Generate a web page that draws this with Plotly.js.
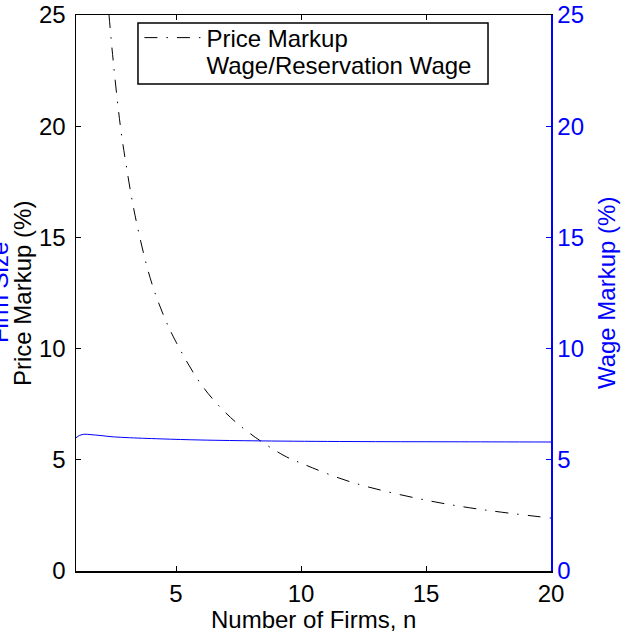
<!DOCTYPE html>
<html>
<head>
<meta charset="utf-8">
<script src="https://cdn.plot.ly/plotly-3.0.1.min.js"></script>
<style>html,body{margin:0;padding:0;background:#fff;}</style>
</head>
<body>
<div id="chart" style="width:630px;height:640px;"></div>
<script>
// Price markup (%) vs number of firms
var nPrice = [2.32, 2.5, 2.77, 3, 3.36, 3.96, 4.5, 5, 6, 7, 8, 9.32, 10, 12, 14.76, 17, 20];
var priceMarkup = [25, 22.8, 20.05, 18.3, 16.0, 13.2, 11.5, 10.3, 8.4, 7.1, 6.15, 5.19, 4.85, 4.0, 3.24, 2.8, 2.38];

// Wage / reservation wage markup (%) vs number of firms (right axis)
var nWage = [1, 1.15, 1.35, 1.6, 2, 2.4, 3, 4.4, 6, 8.4, 12, 16, 20];
var wageMarkup = [5.99, 6.1, 6.15, 6.13, 6.09, 6.04, 6.0, 5.94, 5.89, 5.85, 5.82, 5.81, 5.80];

var xTicks = [5, 10, 15, 20];
var yTicks = [0, 5, 10, 15, 20, 25];

var FONT = 'Liberation Sans, Arial, sans-serif';
var FS = 24;

var traces = [
  {
    x: nPrice, y: priceMarkup, type: 'scatter', mode: 'lines',
    name: 'Price Markup', legend: 'legend',
    line: {color: 'black', width: 1, dash: '13px,9px,1.5px,9px', shape: 'spline'},
    xaxis: 'x', yaxis: 'y'
  },
  {
    x: [null], y: [null], type: 'scatter', mode: 'lines',
    name: 'Wage/Reservation Wage', legend: 'legend2',
    line: {color: 'rgba(255,255,255,0)', width: 1},
    xaxis: 'x', yaxis: 'y'
  },
  {
    x: nWage, y: wageMarkup, type: 'scatter', mode: 'lines',
    name: 'Wage Markup', showlegend: false,
    line: {color: '#0000ff', width: 1, shape: 'spline'},
    xaxis: 'x', yaxis: 'y2'
  }
];

function legendAt(yc) {
  return {
    x: 0.1335, y: yc, xanchor: 'left', yanchor: 'middle',
    bgcolor: 'rgba(0,0,0,0)', borderwidth: 0,
    font: {family: FONT, size: FS, color: 'black'},
    itemwidth: 57
  };
}

var layout = {
  width: 630, height: 640,
  margin: {l: 76, r: 79, t: 15, b: 69, pad: 0},
  paper_bgcolor: 'white', plot_bgcolor: 'white',
  font: {family: FONT, size: FS, color: 'black'},
  showlegend: true,
  legend: legendAt(0.9586),
  legend2: legendAt(0.9101),
  shapes: [
    {type: 'rect', xref: 'paper', yref: 'paper', layer: 'below',
     x0: 0.1305, x1: 0.8674, y0: 0.8759, y1: 0.9856,
     fillcolor: 'white', line: {color: 'black', width: 1.5}}
  ],
  xaxis: {
    range: [1, 20], tickvals: xTicks, ticktext: xTicks.map(String),
    ticks: 'inside', ticklen: 5, tickwidth: 1, tickcolor: 'black',
    showline: true, linecolor: 'black', linewidth: 1.5, mirror: 'ticks',
    showgrid: false, zeroline: false, ticklabelstandoff: 1,
    tickfont: {family: FONT, size: FS, color: 'black'}
  },
  yaxis: {
    range: [0, 25], tickvals: yTicks, ticktext: yTicks.map(String),
    ticks: 'inside', ticklen: 5, tickwidth: 1, tickcolor: 'black',
    showline: true, linecolor: 'black', linewidth: 1.5,
    showgrid: false, zeroline: false, ticklabelstandoff: 4,
    tickfont: {family: FONT, size: FS, color: 'black'}
  },
  yaxis2: {
    range: [0, 25], tickvals: yTicks, ticktext: yTicks.map(String),
    overlaying: 'y', side: 'right',
    ticks: 'inside', ticklen: 5, tickwidth: 1, tickcolor: '#0000ff',
    showline: true, linecolor: '#0000ff', linewidth: 1.5,
    showgrid: false, zeroline: false,
    tickfont: {family: FONT, size: FS, color: '#0000ff'}
  },
  annotations: [
    {text: 'Number of Firms, n', xref: 'paper', yref: 'paper', x: 0.5, y: -0.088,
     xanchor: 'center', yanchor: 'middle', showarrow: false,
     font: {family: FONT, size: FS, color: 'black'}},
    {text: 'Price Markup (%)', xref: 'paper', yref: 'paper', x: -0.1137, y: 0.5,
     xanchor: 'center', yanchor: 'middle', showarrow: false, textangle: -90,
     font: {family: FONT, size: FS, color: 'black'}},
    {text: 'Firm Size', xref: 'paper', yref: 'paper', x: -0.162, y: 0.5,
     xanchor: 'center', yanchor: 'middle', showarrow: false, textangle: -90,
     font: {family: FONT, size: FS, color: '#0000ff'}},
    {text: 'Wage Markup (%)', xref: 'paper', yref: 'paper', x: 1.116, y: 0.5,
     xanchor: 'center', yanchor: 'middle', showarrow: false, textangle: -90,
     font: {family: FONT, size: FS, color: '#0000ff'}}
  ]
};

Plotly.newPlot('chart', traces, layout, {displayModeBar: false, staticPlot: true});
</script>
</body>
</html>
